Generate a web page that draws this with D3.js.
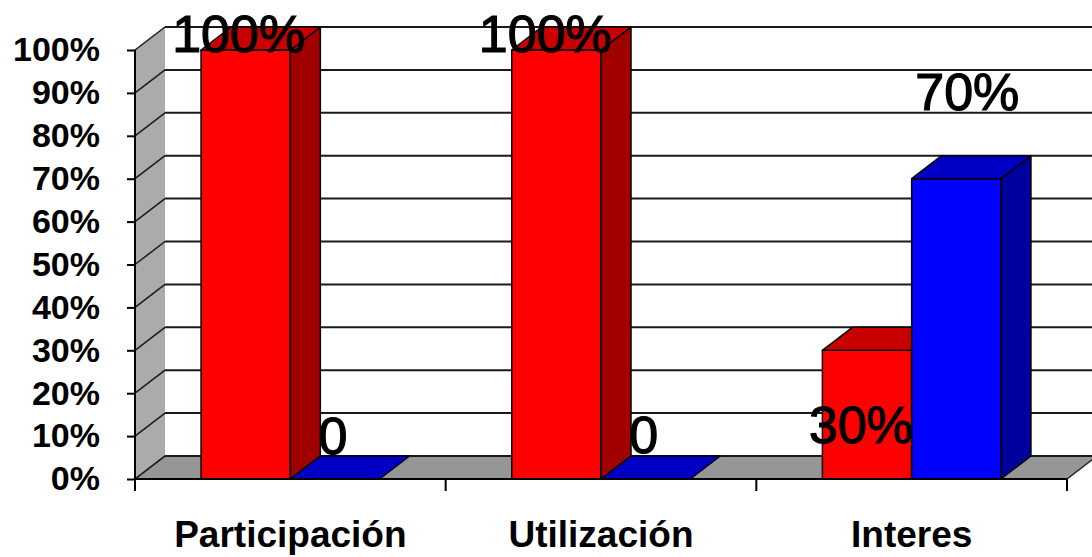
<!DOCTYPE html>
<html>
<head>
<meta charset="utf-8">
<script src="https://cdn.jsdelivr.net/npm/d3@7"></script>
<style>
  html, body { margin: 0; padding: 0; background: #ffffff; }
  svg { display: block; }
  text { font-family: "Liberation Sans", Arial, sans-serif; }
</style>
</head>
<body>
<svg id="chart" width="1092" height="557"></svg>
<script>
// Survey results per aspect (percent)
const categories = ["Participación", "Utilización", "Interes"];
const seriesNames = ["Sí", "No"];
const siValues = [100, 100, 30];
const noValues = [0, 0, 70];
const yTicks = [0, 10, 20, 30, 40, 50, 60, 70, 80, 90, 100];

// Pixel nudges of each value label from its bar's top-front centre [dx, dy]
const siLabelNudge = [[-7, 2], [-11, 2], [-6, 93]];
const noLabelNudge = [[-2, -25], [-2, -26], [11, -69]];

const svg = d3.select("#chart");

const plot = { left: 135, right: 1067, top: 50, bottom: 479 };
const depth = { dx: 30, dy: 23 };

const y = d3.scaleLinear().domain([0, 100]).range([plot.bottom, plot.top]);
const x = d3.scaleBand().domain(categories).range([plot.left, plot.right]).padding(0);
const xs = d3.scaleBand().domain(seriesNames).range([0, x.bandwidth()])
  .paddingInner(0).paddingOuter(0.74);

const palette = {
  "Sí": { front: "#ff0000", top: "#c80000", side: "#a00000" },
  "No": { front: "#0000ff", top: "#0000c4", side: "#00009c" }
};

const rows = categories.map((c, i) => ({
  cat: c,
  bars: [
    { name: "Sí", value: siValues[i], nudge: siLabelNudge[i] },
    { name: "No", value: noValues[i], nudge: noLabelNudge[i] }
  ]
}));

const poly = pts => pts.map(p => p.join(",")).join(" ");

// Side wall (left)
svg.append("polygon")
  .attr("points", poly([
    [plot.left, plot.bottom], [plot.left, plot.top],
    [plot.left + depth.dx, plot.top - depth.dy], [plot.left + depth.dx, plot.bottom - depth.dy]
  ]))
  .attr("fill", "#ababab");

// Floor
svg.append("polygon")
  .attr("points", poly([
    [plot.left, plot.bottom], [plot.left + depth.dx, plot.bottom - depth.dy],
    [plot.right + depth.dx, plot.bottom - depth.dy], [plot.right, plot.bottom]
  ]))
  .attr("fill", "#969696").attr("stroke", "#222").attr("stroke-width", 1.5)
  .attr("stroke-linejoin", "round");

// Gridlines on back wall and side wall
const grid = svg.append("g").attr("stroke", "#1a1a1a").attr("stroke-width", 2);
grid.selectAll("line.back").data(yTicks).join("line")
  .attr("class", "back")
  .attr("x1", plot.left + depth.dx).attr("x2", 1092)
  .attr("y1", d => y(d) - depth.dy).attr("y2", d => y(d) - depth.dy);
grid.selectAll("line.side").data(yTicks).join("line")
  .attr("class", "side")
  .attr("x1", plot.left).attr("x2", plot.left + depth.dx)
  .attr("y1", d => y(d)).attr("y2", d => y(d) - depth.dy)
  .attr("stroke-width", 1.5);

// Bars
const barsG = svg.append("g");
rows.forEach(r => {
  r.bars.forEach(b => {
    const x0 = x(r.cat) + xs(b.name);
    const x1 = x0 + xs.bandwidth();
    const yt = y(b.value);
    const y0 = y(0);
    const col = palette[b.name];
    const g = barsG.append("g").attr("stroke", "#000").attr("stroke-width", 1.5)
      .attr("stroke-linejoin", "round");
    if (b.value > 0) {
      g.append("rect").attr("x", x0).attr("y", yt).attr("width", x1 - x0).attr("height", y0 - yt)
        .attr("fill", col.front);
      g.append("polygon").attr("points", poly([
        [x1, yt], [x1 + depth.dx, yt - depth.dy], [x1 + depth.dx, y0 - depth.dy], [x1, y0]
      ])).attr("fill", col.side);
    }
    g.append("polygon").attr("points", poly([
      [x0, yt], [x1, yt], [x1 + depth.dx, yt - depth.dy], [x0 + depth.dx, yt - depth.dy]
    ])).attr("fill", col.top);
  });
});

// Value labels
const labelsG = svg.append("g");
rows.forEach(r => {
  r.bars.forEach(b => {
    const cx = x(r.cat) + xs(b.name) + xs.bandwidth() / 2;
    labelsG.append("text")
      .attr("x", cx + b.nudge[0])
      .attr("y", y(b.value) + b.nudge[1])
      .attr("text-anchor", "middle")
      .attr("font-size", 52)
      .attr("fill", "#000")
      .attr("stroke", "#000")
      .attr("stroke-width", 1.2)
      .text(b.value === 0 ? "0" : b.value + "%");
  });
});

// Y axis
const yAxis = svg.append("g")
  .attr("transform", `translate(${plot.left},0)`)
  .call(d3.axisLeft(y).tickValues(yTicks).tickFormat(d => d + "%").tickSize(8).tickPadding(27));
yAxis.select(".domain").attr("stroke", "#000").attr("stroke-width", 2)
  .attr("d", `M0,${plot.bottom}V${plot.top}`);
yAxis.selectAll(".tick line").attr("stroke", "#000").attr("stroke-width", 2);
yAxis.selectAll(".tick text")
  .attr("font-size", 34).attr("font-weight", "bold").attr("fill", "#000")
  .attr("font-family", "'Liberation Sans', Arial, sans-serif");

// Category axis
const xAxis = svg.append("g")
  .attr("transform", `translate(0,${plot.bottom})`)
  .call(d3.axisBottom(x).tickSize(0).tickPadding(42));
xAxis.select(".domain").remove();
xAxis.selectAll(".tick text")
  .attr("font-size", 37).attr("font-weight", "bold").attr("fill", "#000")
  .attr("font-family", "'Liberation Sans', Arial, sans-serif");
xAxis.append("line").attr("x1", plot.left).attr("x2", plot.right)
  .attr("y1", 0).attr("y2", 0).attr("stroke", "#000").attr("stroke-width", 2);
const boundaries = categories.map(c => x(c)).concat([plot.right]);
xAxis.selectAll("line.sep").data(boundaries).join("line")
  .attr("class", "sep")
  .attr("x1", d => d).attr("x2", d => d).attr("y1", 0).attr("y2", 12)
  .attr("stroke", "#000").attr("stroke-width", 2);
</script>
</body>
</html>
